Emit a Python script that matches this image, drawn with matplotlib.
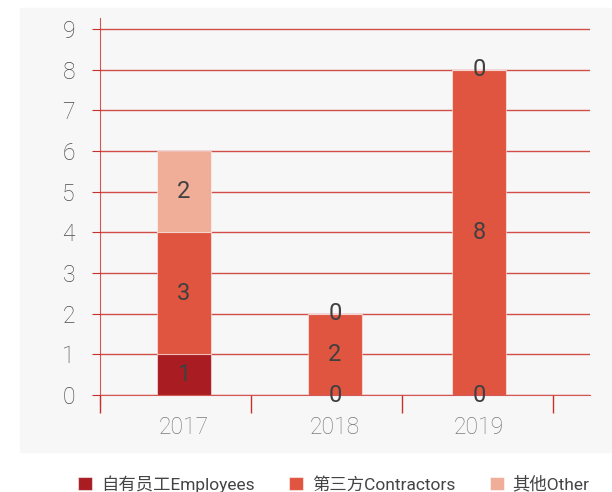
import matplotlib
matplotlib.use("Agg")
import matplotlib.pyplot as plt
from matplotlib.patches import Rectangle
import numpy as np

plt.rcParams['font.family'] = ['Roboto', 'Noto Sans CJK SC', 'DejaVu Sans']

years = ['2017', '2018', '2019']
employees = [1, 0, 0]
contractors = [3, 2, 8]
other = [2, 0, 0]
series_names = ['自有员工Employees', '第三方Contractors', '其他Other']
colors = ['#a91d22', '#e05540', '#f0ad98']

W, H = 612, 492
fig = plt.figure(figsize=(W / 100, H / 100), dpi=100)
fig.patches.append(Rectangle((20 / W, 1 - 452 / H), 592 / W, 444 / H,
                             transform=fig.transFigure, color='#f7f7f7', zorder=-5))

ax = fig.add_axes([100 / W, 1 - 395 / H, 490 / W, 377 / H])
ax.set_zorder(2)
ax.set_facecolor('none')

grid_color = '#c9302c'
pos = np.array([0.556, 1.556, 2.51])
width = 0.36

bottom = np.zeros(3)
for vals, name, c in zip([employees, contractors, other], series_names, colors):
    vals = np.array(vals)
    ax.bar(pos, vals, width, bottom=bottom, color=c, label=name,
           edgecolor=(1, 1, 1, 0.5), linewidth=0.8, zorder=2)
    for x, b, v in zip(pos, bottom, vals):
        ax.text(x, b + v / 2, str(v), ha='center', va='center',
                fontsize=17, color='#404040', fontweight='normal', zorder=3)
    bottom = bottom + vals

ax.set_xlim(0, 490 / 151)
ax.set_ylim(0, 9.27)
ax.set_yticks(range(10))
ax.set_xticks([0, 1, 2, 3])
ax.set_xticklabels([])
ax.set_xticks(pos, minor=True)
ax.set_xticklabels(years, minor=True)
ax.tick_params(axis='x', which='minor', length=0, pad=15, labelsize=16.5, labelcolor='#7a7a7a')
ax.tick_params(axis='x', which='major', length=13, color=grid_color, width=1)
ax.tick_params(axis='y', length=6, color=grid_color, labelsize=16.5, labelcolor='#4a4a4a', pad=12)
for lbl in ax.get_yticklabels() + ax.get_xticklabels(minor=True):
    lbl.set_fontweight('light')

ax.grid(axis='y', color=grid_color, linewidth=1, alpha=0.85, zorder=1)
ax.set_axisbelow(True)
for s in ['top', 'right']:
    ax.spines[s].set_visible(False)
ax.spines['left'].set_color(grid_color)
ax.spines['left'].set_alpha(0.8)
ax.spines['left'].set_bounds(-0.25, 9.27)
ax.spines['bottom'].set_color(grid_color)
ax.spines['bottom'].set_alpha(0.8)

fig.legend(loc='center', bbox_to_anchor=(334 / W, 1 - 484 / H), ncol=3, frameon=False,
           fontsize=12.5, handlelength=0.8, handleheight=0.8, handletextpad=0.5,
           columnspacing=2.0, labelcolor='#444444')

fig.savefig('out.png', dpi=100)
